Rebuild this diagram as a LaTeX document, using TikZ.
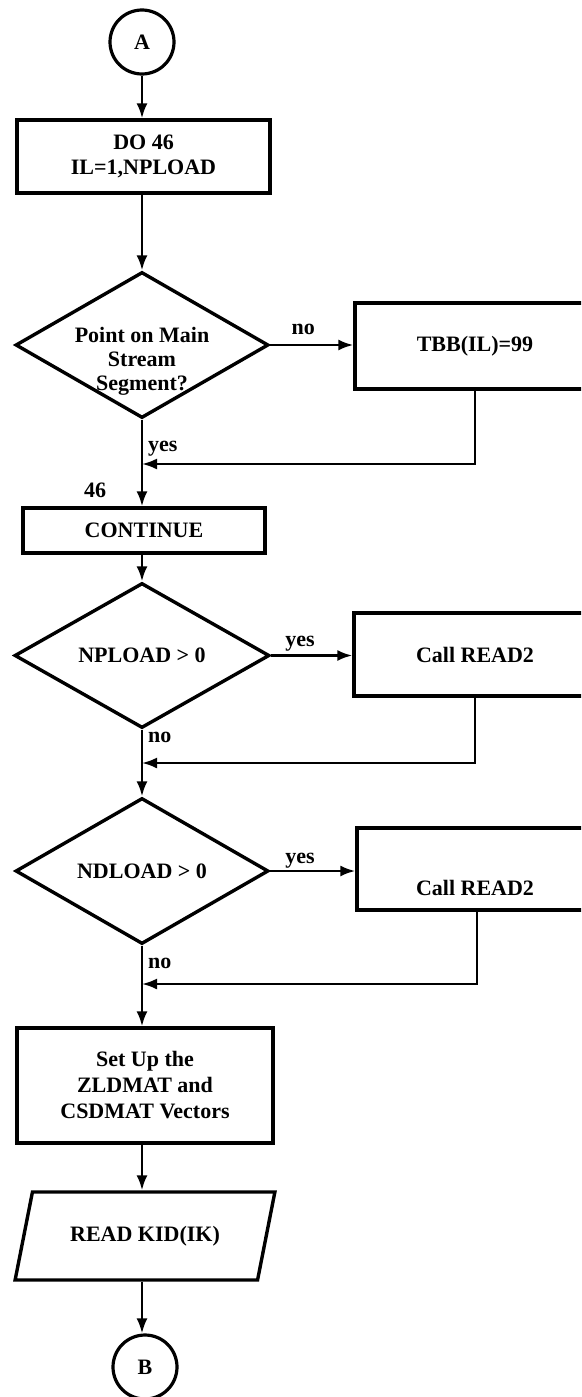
\documentclass[tikz,border=0pt]{standalone}
\usepackage{fontspec}
\setmainfont{Liberation Serif}
\usetikzlibrary{shapes.geometric,arrows.meta}
\begin{document}
\begin{tikzpicture}[x=1pt,y=-1pt,
  txt/.style={font=\fontsize{22}{25}\selectfont\bfseries},
  box/.style={draw,rectangle,line width=3.4pt,inner sep=0pt,txt,align=center},
  dia/.style={draw,diamond,line width=3.4pt,inner sep=0pt,txt},
  term/.style={draw,circle,line width=3.2pt,minimum size=64pt,inner sep=0pt,txt},
  iobox/.style={draw,trapezium,trapezium left angle=60,trapezium right angle=120,trapezium stretches=true,line width=3.4pt,inner sep=0pt,txt},
  lbl/.style={txt,inner sep=0pt},
  conn/.style={line width=2.4pt,-{Latex[length=15pt,width=11pt]}}
]
\useasboundingbox (0,0) rectangle (581,1397);
\clip (0,0) rectangle (581,1397);

% main column
\node[term] (A) at (142,42) {A};
\node[box,minimum width=253pt,minimum height=73pt] (do) at (143.5,156.5) {DO 46\\IL=1,NPLOAD};
\node[dia,minimum width=253pt,minimum height=146pt] (d1) at (142,345) {};
\node[lbl,align=center] (d1t) at (142,361) {Point on Main\\[-1pt]Stream\\[-1pt]Segment?};
\node[box,minimum width=242pt,minimum height=45pt] (cont) at (144,530.5) {CONTINUE};
\node[lbl,anchor=base] (n46) at (95,497) {46};
\node[dia,minimum width=255pt,minimum height=145pt] (d2) at (142,655.5) {NPLOAD > 0};
\node[dia,minimum width=253pt,minimum height=146pt] (d3) at (142,871) {NDLOAD > 0};
\node[box,minimum width=256pt,minimum height=115pt] (setup) at (145,1085.5) {Set Up the\\[1pt]ZLDMAT and\\[1pt]CSDMAT Vectors};
\node[iobox,minimum width=260pt,minimum height=88pt] (rd) at (145,1236) {READ KID(IK)};
\node[term] (B) at (145,1367) {B};

% right column
\node[box,minimum width=240pt,minimum height=86pt] (tbb) at (475,346) {TBB(IL)=99};
\node[box,minimum width=242pt,minimum height=83pt] (r1) at (475,654.5) {Call READ2};
\node[box,minimum width=240pt,minimum height=82pt] (r2) at (477,869) {};
\node[lbl] (r2t) at (475,888) {Call READ2};

% joins
\coordinate (j1) at (142,464);
\coordinate (j2) at (142,763);
\coordinate (j3) at (142,984);

% labels
\node[lbl,anchor=base east] (no1) at (315,334) {no};
\node[lbl,anchor=base west] (yes1) at (148,451) {yes};
\node[lbl,anchor=base east] (yes2) at (315,646) {yes};
\node[lbl,anchor=base west] (no2) at (148,742) {no};
\node[lbl,anchor=base east] (yes3) at (315,863) {yes};
\node[lbl,anchor=base west] (no3) at (148,968) {no};

% connectors
\draw[conn] (A.south) -- (A.south |- do.north);
\draw[conn] (d1.north |- do.south) -- (d1.north);
\draw[conn] (d1.east) -- (tbb.west |- d1.east);
\draw[conn] (tbb.south) |- (j1);
\draw[conn] (d1.south) -- (d1.south |- cont.north);
\draw[conn] (d2.north |- cont.south) -- (d2.north);
\draw[conn] (d2.east) -- (r1.west |- d2.east);
\draw[conn] (r1.south) |- (j2);
\draw[conn] (d2.south) -- (d3.north);
\draw[conn] (d3.east) -- (r2.west |- d3.east);
\draw[conn] (r2.south) |- (j3);
\draw[conn] (d3.south) -- (d3.south |- setup.north);
\draw[conn] (d3.south |- setup.south) -- (d3.south |- rd.north);
\draw[conn] (d3.south |- rd.south) -- (d3.south |- B.north);
\end{tikzpicture}
\end{document}
